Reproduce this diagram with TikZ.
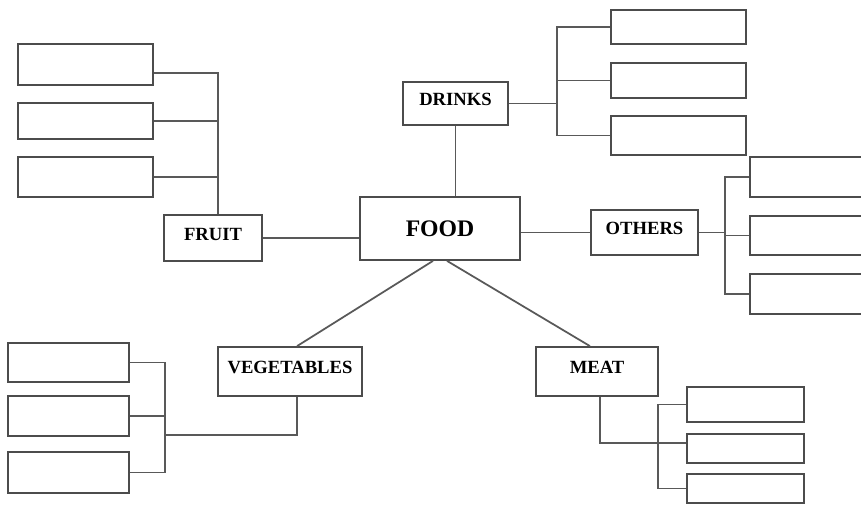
\documentclass[tikz,border=0pt]{standalone}
\usepackage{fontspec}
\setmainfont{Liberation Serif}
\begin{document}
\begin{tikzpicture}
[x=0.02cm,y=-0.02cm,
 blank/.style={draw=black!70,line width=1pt,inner sep=0pt},
 topic/.style={draw=black!70,line width=1pt,inner sep=0pt,text depth=0.16cm,font=\fontsize{10.6}{12}\selectfont\bfseries},
 wire/.style={draw=black!65,line width=1pt}]
\clip (0,0) rectangle (861,505);
\node[topic,font=\fontsize{13.5}{15}\selectfont\bfseries,text depth=0pt,minimum width=3.2cm,minimum height=1.26cm] (food) at (440,228.5) {FOOD};
\node[topic,minimum width=2.1cm,minimum height=0.86cm] (drinks) at (455.5,103.5) {DRINKS};
\node[topic,minimum width=2.14cm,minimum height=0.9cm] (others) at (644.5,232.5) {OTHERS};
\node[topic,minimum width=1.96cm,minimum height=0.92cm] (fruit) at (213,238) {FRUIT};
\node[topic,minimum width=2.88cm,minimum height=0.98cm] (veg) at (290,371.5) {VEGETABLES};
\node[topic,minimum width=2.44cm,minimum height=0.98cm] (meat) at (597,371.5) {MEAT};
\foreach \n/\x/\y/\w/\h in {f1/85.5/64.5/135/41,f2/85.5/121/135/36,f3/85.5/177/135/40,
  d1/678.5/27/135/34,d2/678.5/80.5/135/35,d3/678.5/135.5/135/39,
  o1/811/177/122/40,o2/811/235.5/122/39,o3/811/294/122/40,
  v1/68.5/362.5/121/39,v2/68.5/416/121/40,v3/68.5/472.5/121/41,
  m1/745.5/404.5/117/35,m2/745.5/448.5/117/29,m3/745.5/488.5/117/29}
  \node[blank,minimum width=\w*0.02cm,minimum height=\h*0.02cm] (\n) at (\x,\y) {};
\coordinate (fbus) at (218,73);
\coordinate (dbus) at (557,98);
\coordinate (obus) at (725,233);
\coordinate (vbus) at (165,435);
\coordinate (mbus) at (658,443);
\draw[wire] (fruit.north -| fbus) -- (fbus) -- (fbus -| f1.east);
\draw[wire] (f2) -- (f2 -| fbus);
\draw[wire] (f3) -- (f3 -| fbus);
\draw[wire] (fruit) -- (fruit -| food.west);
\draw[wire] (drinks) -- (drinks |- food.north);
\draw[wire] (drinks) -- (drinks -| dbus);
\draw[wire] (d1) -| (dbus |- d3) -- (d3);
\draw[wire] (d2) -- (d2 -| dbus);
\draw[wire] (others) -- (others -| food.east);
\draw[wire] (others) -- (others -| obus);
\draw[wire] (o1) -| (obus |- o3) -- (o3);
\draw[wire] (o2) -- (o2 -| obus);
\draw[wire] ([xshift=-0.14cm]food.south) -- ([xshift=0.14cm]veg.north);
\draw[wire] ([xshift=0.14cm]food.south) -- ([xshift=-0.14cm]meat.north);
\draw[wire] ([xshift=0.14cm]veg.south) |- (vbus);
\draw[wire] (v1) -| (vbus |- v3) -- (v3);
\draw[wire] (v2) -- (v2 -| vbus);
\draw[wire] ([xshift=0.06cm]meat.south) |- (mbus) -- (mbus -| m2.west);
\draw[wire] (m1) -| (mbus |- m3) -- (m3);
\end{tikzpicture}
\end{document}
